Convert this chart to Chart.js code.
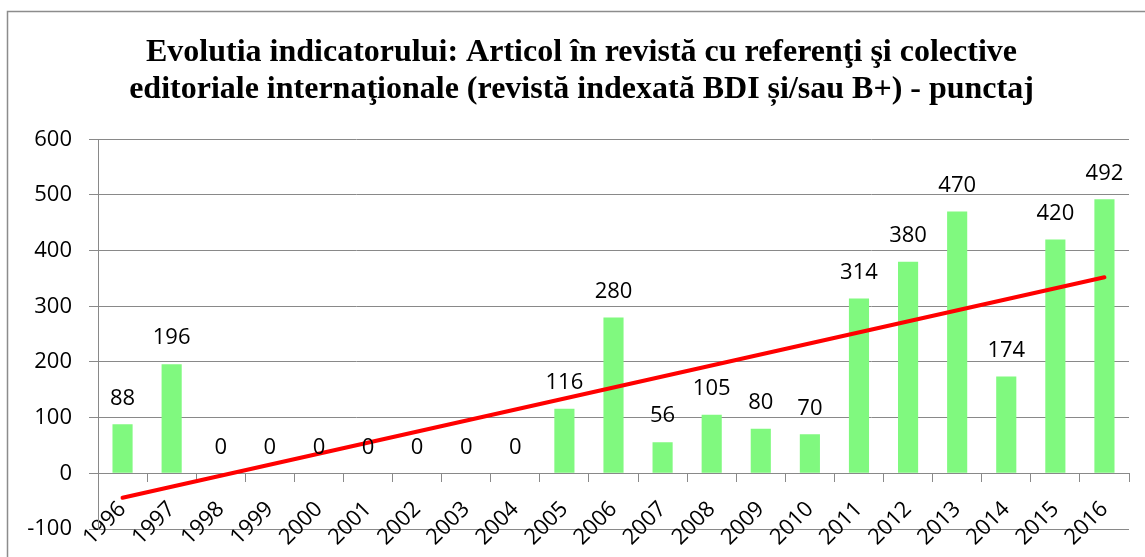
<!DOCTYPE html>
<html>
<head>
<meta charset="utf-8">
<script src="https://cdn.jsdelivr.net/npm/chart.js@4.4.1/dist/chart.umd.min.js"></script>
<style>
	html, body { margin: 0; padding: 0; background: #fff; }
	#wrap { width: 1145px; height: 557px; }
</style>
</head>
<body>
<div id="wrap"><canvas id="indicator_chart" width="1145" height="557"></canvas></div>
<script>
const YEARS = ['1996', '1997', '1998', '1999', '2000', '2001', '2002', '2003', '2004', '2005', '2006', '2007', '2008', '2009', '2010', '2011', '2012', '2013', '2014', '2015', '2016']
const POINTS = [88, 196, 0, 0, 0, 0, 0, 0, 0, 116, 280, 56, 105, 80, 70, 314, 380, 470, 174, 420, 492]
// linear trend line, read at its two ends
const TREND_YEARS = ['1996', '2016']
const TREND_VALUES = [-44, 352]
const Y_TICKS = [-100, 0, 100, 200, 300, 400, 500, 600]
const TITLE = [
	'Evolutia indicatorului: Articol în revistă cu referenţi şi colective',
	'editoriale internaţionale (revistă indexată BDI și/sau B+) - punctaj',
]

const GRID_COLOR = '#898989'
const LABEL_FONT = { family: 'Open Sans', size: 22 }

// outer frame of the chart object, and the title nudged right like the original
const framePlugin = {
	id: 'frame',
	afterLayout(chart) {
		chart.titleBlock.left += 17
		chart.titleBlock.right += 17
	},
	beforeDraw(chart) {
		const ctx = chart.ctx
		ctx.save()
		ctx.fillStyle = '#fff'
		ctx.fillRect(0, 0, chart.width, chart.height)
		ctx.strokeStyle = '#8c8c8c'
		ctx.lineWidth = 1.5
		ctx.strokeRect(7.5, 11.5, 1300, 700)
		ctx.restore()
	},
}

// value labels above the bars
const barLabels = {
	id: 'barLabels',
	afterDatasetsDraw(chart) {
		const ctx = chart.ctx
		const meta = chart.getDatasetMeta(1)
		ctx.save()
		ctx.font = `${LABEL_FONT.size}px "${LABEL_FONT.family}"`
		ctx.fillStyle = '#000'
		ctx.textAlign = 'center'
		ctx.textBaseline = 'middle'
		meta.data.forEach((bar, i) => {
			ctx.fillText(String(POINTS[i]), bar.x, bar.y - 26)
		})
		ctx.restore()
	},
}

const options = {
	type: 'bar',
	data: {
		labels: YEARS,
		datasets: [
			{
				type: 'line',
				label: 'Linear (punctaj)',
				data: TREND_YEARS.map((year, i) => ({ x: year, y: TREND_VALUES[i] })),
				borderColor: '#ff0000',
				borderWidth: 4,
				pointRadius: 0,
				borderCapStyle: 'round',
				order: 0,
			},
			{
				label: 'punctaj',
				data: POINTS,
				backgroundColor: '#80f97f',
				barPercentage: 0.41,
				categoryPercentage: 1,
				order: 1,
			},
		],
	},
	options: {
		responsive: false,
		animation: false,
		layout: { padding: { left: 0, right: 16, top: 0, bottom: 28 } },
		plugins: {
			legend: { display: false },
			tooltip: { enabled: false },
			title: {
				display: true,
				text: TITLE,
				color: '#000',
				font: { family: 'Liberation Serif', size: 32, weight: 'bold', lineHeight: 1.16 },
				padding: { top: 34, bottom: 31 },
			},
		},
		scales: {
			x: {
				type: 'category',
				// category axis crosses the value axis at 0
				position: { y: 0 },
				afterFit: scale => { scale.height = 0 },
				grid: {
					offset: true,
					drawOnChartArea: false,
					drawTicks: true,
					tickLength: 8,
					color: GRID_COLOR,
				},
				border: { display: true, color: GRID_COLOR },
				ticks: {
					autoSkip: false,
					minRotation: 45,
					maxRotation: 45,
					padding: 15,
					color: '#000',
					font: LABEL_FONT,
				},
			},
			y: {
				min: Y_TICKS[0],
				max: Y_TICKS[Y_TICKS.length - 1],
				afterFit: scale => {
					scale.width = 98
					// the label padding should not push the plot area up
					scale.paddingTop = 0
					scale.paddingBottom = 0
				},
				afterBuildTicks: scale => { scale.ticks = Y_TICKS.map(v => ({ value: v })) },
				grid: { color: GRID_COLOR, tickLength: 9 },
				border: { display: true, color: GRID_COLOR },
				ticks: {
					padding: 17,
					color: '#000',
					font: LABEL_FONT,
				},
			},
		},
	},
	plugins: [framePlugin, barLabels],
}

// draw the chart
const ctx = document.getElementById('indicator_chart')
const indicatorChart = new Chart(ctx, options)
</script>
</body>
</html>
